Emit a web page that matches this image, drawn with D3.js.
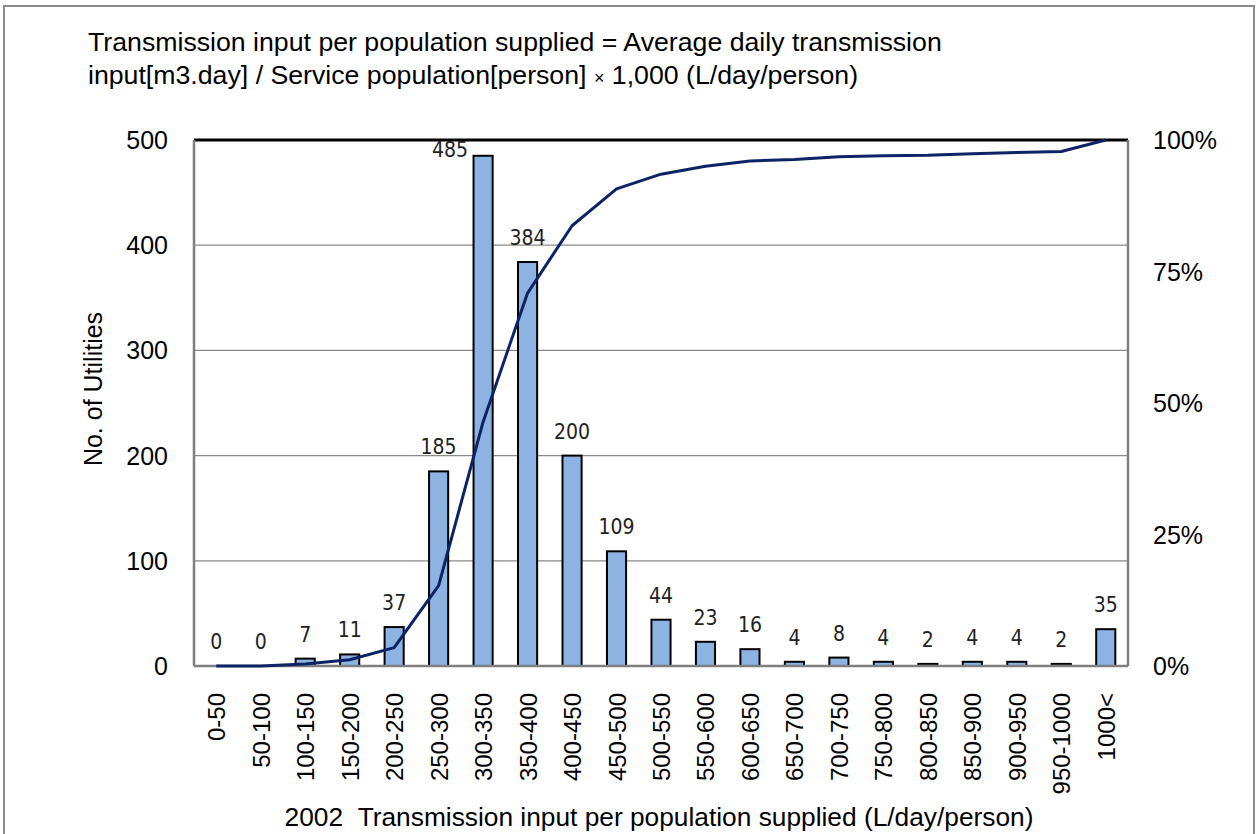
<!DOCTYPE html>
<html><head><meta charset="utf-8">
<script src="https://cdn.jsdelivr.net/npm/d3@7"></script>
<style>body{margin:0;background:#fff}svg{display:block}</style>
</head><body>
<svg id="c" width="1257" height="834"></svg>
<script>
const categories = ["0-50","50-100","100-150","150-200","200-250","250-300","300-350","350-400","400-450","450-500","500-550","550-600","600-650","650-700","700-750","750-800","800-850","850-900","900-950","950-1000","1000<"];
const counts = [0,0,7,11,37,185,485,384,200,109,44,23,16,4,8,4,2,4,4,2,35];
const cumulative = [0,0,0.4,1.2,3.5,15.3,46.4,70.9,83.7,90.7,93.5,95.0,96.0,96.3,96.8,97.0,97.1,97.4,97.6,97.8,100];
const leftTicks = [0,100,200,300,400,500];
const rightTicks = [0,25,50,75,100];

const svg = d3.select("#c");
const L = 194, R = 1128, T = 140, B = 666;
const font = "Liberation Sans, Arial, sans-serif";
const narrow = "'Liberation Sans Narrow', 'DejaVu Sans Condensed', Arial, sans-serif";

svg.append("rect").attr("x",4).attr("y",6).attr("width",1250).attr("height",840)
  .attr("fill","none").attr("stroke","#8c8c8c").attr("stroke-width",2);

const x = d3.scaleBand().domain(categories).range([L,R]).paddingInner(0.57).paddingOuter(0.285);
const y = d3.scaleLinear().domain([0,500]).range([B,T]);
const y2 = d3.scaleLinear().domain([0,100]).range([B,T]);

// gridlines
svg.append("g").selectAll("line").data(leftTicks.filter(d=>d>0&&d<500)).join("line")
  .attr("x1",L).attr("x2",R).attr("y1",d=>y(d)).attr("y2",d=>y(d))
  .attr("stroke","#8a8a8a").attr("stroke-width",1.2);

// bars
svg.append("g").selectAll("rect").data(counts).join("rect")
  .attr("x",(d,i)=>x(categories[i])).attr("width",x.bandwidth())
  .attr("y",d=>y(d)).attr("height",d=>B-y(d))
  .attr("fill","#8db3e2").attr("stroke","#000").attr("stroke-width",2);

// frame
svg.append("line").attr("x1",L).attr("x2",R).attr("y1",T).attr("y2",T).attr("stroke","#000").attr("stroke-width",3);
svg.append("line").attr("x1",L).attr("x2",L).attr("y1",T).attr("y2",B).attr("stroke","#7f7f7f").attr("stroke-width",2.5);
svg.append("line").attr("x1",R).attr("x2",R).attr("y1",T).attr("y2",B).attr("stroke","#7f7f7f").attr("stroke-width",2.5);
svg.append("line").attr("x1",L).attr("x2",R).attr("y1",B).attr("y2",B).attr("stroke","#7f7f7f").attr("stroke-width",2.5);

// cumulative line
const cx = i => x(categories[i]) + x.bandwidth()/2;
svg.append("path").datum(cumulative)
  .attr("d", d3.line().x((d,i)=>cx(i)).y(d=>y2(d)))
  .attr("fill","none").attr("stroke","#0c2366").attr("stroke-width",3).attr("stroke-linejoin","round");

// value labels
svg.append("g").selectAll("text").data(counts).join("text")
  .attr("x",(d,i)=>{ const top=y(d)-17; return top < T+25 ? cx(i)-33 : cx(i); })
  .attr("y",d=>{ const top=y(d)-17; return top < T+25 ? T+17 : top; })
  .attr("text-anchor","middle").attr("font-family",narrow).attr("font-size",21).attr("fill","#222")
  .text(d=>d);

// left axis labels
svg.append("g").selectAll("text").data(leftTicks).join("text")
  .attr("x",168).attr("y",d=>y(d)+9).attr("text-anchor","end")
  .attr("font-family",font).attr("font-size",25).text(d=>d);
// right axis labels
svg.append("g").selectAll("text").data(rightTicks).join("text")
  .attr("x",1153).attr("y",d=>y2(d)+9).attr("text-anchor","start")
  .attr("font-family",font).attr("font-size",25).text(d=>d+"%");

// x tick labels
svg.append("g").selectAll("text").data(categories).join("text")
  .attr("transform",(d,i)=>`translate(${cx(i)+9},693) rotate(-90)`)
  .attr("text-anchor","end").attr("font-family",font).attr("font-size",24).text(d=>d);

// axis titles
svg.append("text").attr("transform","translate(102,389) rotate(-90)").attr("text-anchor","middle")
  .attr("font-family",font).attr("font-size",25).text("No. of Utilities");
svg.append("text").attr("x",659).attr("y",826).attr("text-anchor","middle")
  .attr("font-family",font).attr("font-size",26.3).text("2002\u00a0\u00a0Transmission input per population supplied (L/day/person)");

// title
svg.append("text").attr("x",88).attr("y",51).attr("font-family",font).attr("font-size",26.7)
  .text("Transmission input per population supplied = Average daily transmission");
const t2 = svg.append("text").attr("x",88).attr("y",84).attr("font-family",font).attr("font-size",26.7);
t2.append("tspan").text("input[m3.day] / Service population[person] ");
t2.append("tspan").attr("font-size",18).text("×");
t2.append("tspan").text(" 1,000 (L/day/person)");
</script>
</body></html>
